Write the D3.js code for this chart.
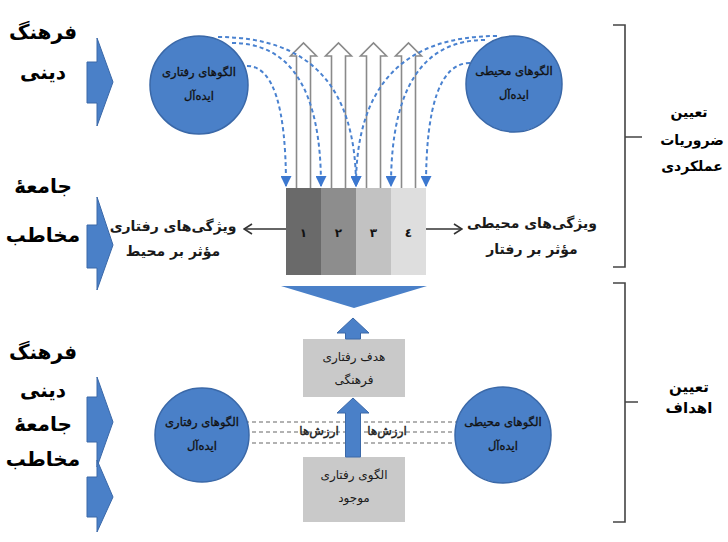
<!DOCTYPE html>
<html lang="fa">
	<head>
		<meta charset="utf-8">
		<title>D3: cultural behaviour model</title>
		<script type="text/javascript" src="https://d3js.org/d3.v7.min.js"></script>
		<style type="text/css">
			body { margin: 0; background: #fff; }
			svg { display: block; font-family: "DejaVu Sans", sans-serif; }
		</style>
	</head>
	<body>

		<div id="diagram"></div>

		<script type="text/javascript">

		// labels
		var blockLabels = ["۱", "۲", "۳", "٤"];
		var leftWordsTop = ["فرهنگ", "دینی", "جامعهٔ", "مخاطب"];
		var leftWordsBottom = ["فرهنگ", "دینی", "جامعهٔ", "مخاطب"];
		var idealBehaviour = ["الگوهای رفتاری", "ایده‌آل"];
		var idealEnvironment = ["الگوهای محیطی", "ایده‌آل"];
		var behaviourTraits = ["ویژگی‌های رفتاری", "مؤثر بر محیط"];
		var environmentTraits = ["ویژگی‌های محیطی", "مؤثر بر رفتار"];
		var goalBox = ["هدف رفتاری", "فرهنگی"];
		var currentBox = ["الگوی رفتاری", "موجود"];
		var valueLabels = ["ارزش‌ها", "ارزش‌ها"];
		var phaseTop = ["تعیین", "ضروریات", "عملکردی"];
		var phaseBottom = ["تعیین", "اهداف"];
		// which block edge each dashed curve lands on (0..4)
		var leftCurveEdges = [0, 1, 2];
		var rightCurveEdges = [2, 3, 4];

		drawDiagram();

		function drawDiagram(){

			var w = 728;
			var h = 542;
			var blue = "#4a80c8";
			var blueEdge = "#3a68a8";

			var svg = d3.select("#diagram")
				.append("svg")
				.attr("width", w)
				.attr("height", h);

			var defs = svg.append("defs");
			defs.append("marker")
				.attr("id", "bluehead")
				.attr("viewBox", "0 0 10 10")
				.attr("refX", 9).attr("refY", 5)
				.attr("markerWidth", 11).attr("markerHeight", 11)
				.attr("markerUnits", "userSpaceOnUse")
				.attr("orient", "auto")
				.append("path")
				.attr("d", "M0,0 L10,5 L0,10 z")
				.attr("fill", "#3c78d0");
			defs.append("marker")
				.attr("id", "openhead")
				.attr("viewBox", "0 0 10 12")
				.attr("refX", 9).attr("refY", 6)
				.attr("markerWidth", 10).attr("markerHeight", 12)
				.attr("markerUnits", "userSpaceOnUse")
				.attr("orient", "auto")
				.append("path")
				.attr("d", "M1,1 L9,6 L1,11")
				.attr("fill", "none")
				.attr("stroke", "#333")
				.attr("stroke-width", 1.6);

			// scales for the four-part block
			var blockX = d3.scaleBand()
				.domain(blockLabels)
				.range([286, 426]);
			var edgeX = d3.scaleLinear()
				.domain([0, blockLabels.length])
				.range([286, 426]);
			var blockColor = d3.scaleOrdinal()
				.domain(blockLabels)
				.range(["#6a6a6a", "#8d8d8d", "#c2c2c2", "#dedede"]);

			var blockTop = 188, blockBottom = 275;

			// hollow upward arrows
			svg.selectAll(".hollow")
				.data(blockLabels)
				.enter()
				.append("path")
				.attr("class", "hollow")
				.attr("d", function(d){
					var cx = blockX(d) + blockX.bandwidth() / 2;
					return "M" + (cx - 7) + "," + blockTop + " L" + (cx - 7) + ",56 L" + (cx - 13) + ",56 L" + cx + ",43 L" +
						(cx + 13) + ",56 L" + (cx + 7) + ",56 L" + (cx + 7) + "," + blockTop;
				})
				.attr("fill", "#fff")
				.attr("stroke", "#8a8a8a")
				.attr("stroke-width", 1.6);

			// blocks
			svg.selectAll(".block")
				.data(blockLabels)
				.enter()
				.append("rect")
				.attr("class", "block")
				.attr("x", function(d){ return blockX(d); })
				.attr("y", blockTop)
				.attr("width", blockX.bandwidth())
				.attr("height", blockBottom - blockTop)
				.attr("fill", function(d){ return blockColor(d); });

			svg.selectAll(".blocknum")
				.data(blockLabels)
				.enter()
				.append("text")
				.attr("class", "blocknum")
				.attr("x", function(d){ return blockX(d) + blockX.bandwidth() / 2; })
				.attr("y", 233)
				.attr("text-anchor", "middle")
				.attr("dominant-baseline", "central")
				.attr("font-size", 12)
				.attr("font-weight", "bold")
				.attr("fill", "#111")
				.text(function(d){ return d; });

			// dashed curves from the top circles
			var curveStartsLeft = [[247, 66], [232, 43], [218, 37]];
			var curveStartsRight = [[497, 36], [485, 40], [470, 63]];
			function curvePath(s, e){
				var tx = edgeX(e);
				return "M" + s[0] + "," + s[1] + " Q" + tx + "," + s[1] + " " + tx + ",186";
			}
			svg.selectAll(".curveL")
				.data(leftCurveEdges)
				.enter()
				.append("path")
				.attr("class", "curveL")
				.attr("d", function(d, i){ return curvePath(curveStartsLeft[i], d); })
				.attr("fill", "none")
				.attr("stroke", "#4a82d0")
				.attr("stroke-width", 2)
				.attr("stroke-dasharray", "4,3")
				.attr("marker-end", "url(#bluehead)");
			svg.selectAll(".curveR")
				.data(rightCurveEdges)
				.enter()
				.append("path")
				.attr("class", "curveR")
				.attr("d", function(d, i){ return curvePath(curveStartsRight[i], d); })
				.attr("fill", "none")
				.attr("stroke", "#4a82d0")
				.attr("stroke-width", 2)
				.attr("stroke-dasharray", "4,3")
				.attr("marker-end", "url(#bluehead)");

			// circles
			var circles = [
				{cx: 199, cy: 85, r: 49, text: idealBehaviour},
				{cx: 514, cy: 84, r: 48, text: idealEnvironment},
				{cx: 202, cy: 435, r: 47, text: idealBehaviour},
				{cx: 503, cy: 435, r: 48, text: idealEnvironment}
			];

			// dashed value lines at the bottom (behind circles)
			svg.selectAll(".valline")
				.data([422, 432, 443])
				.enter()
				.append("line")
				.attr("class", "valline")
				.attr("x1", 245).attr("x2", 458)
				.attr("y1", function(d){ return d; })
				.attr("y2", function(d){ return d; })
				.attr("stroke", "#666")
				.attr("stroke-width", 1.2)
				.attr("stroke-dasharray", "4,3");

			svg.selectAll(".ball")
				.data(circles)
				.enter()
				.append("circle")
				.attr("class", "ball")
				.attr("cx", function(d){ return d.cx; })
				.attr("cy", function(d){ return d.cy; })
				.attr("r", function(d){ return d.r; })
				.attr("fill", blue)
				.attr("stroke", blueEdge)
				.attr("stroke-width", 1.5);

			circles.forEach(function(c){
				c.text.forEach(function(t, i){
					svg.append("text")
						.attr("x", c.cx)
						.attr("y", c.cy - 13 + i * 24)
						.attr("text-anchor", "middle")
						.attr("dominant-baseline", "central")
						.attr("font-size", 11.5)
						.attr("fill", "#111")
						.attr("stroke", "#111")
						.attr("stroke-width", 0.3)
						.text(t);
				});
			});

			// horizontal arrows from the block
			svg.append("line")
				.attr("x1", edgeX(0)).attr("x2", 244)
				.attr("y1", 229).attr("y2", 229)
				.attr("stroke", "#333").attr("stroke-width", 1.6)
				.attr("marker-end", "url(#openhead)");
			svg.append("line")
				.attr("x1", edgeX(4)).attr("x2", 462)
				.attr("y1", 229).attr("y2", 229)
				.attr("stroke", "#333").attr("stroke-width", 1.6)
				.attr("marker-end", "url(#openhead)");

			function twoLines(lines, cx, y0, gap, size, bold){
				lines.forEach(function(t, i){
					svg.append("text")
						.attr("x", cx)
						.attr("y", y0 + i * gap)
						.attr("text-anchor", "middle")
						.attr("dominant-baseline", "central")
						.attr("font-size", size)
						.attr("font-weight", bold ? "bold" : "normal")
						.attr("fill", "#1a1a1a")
						.text(t);
				});
			}
			twoLines(behaviourTraits, 173, 226, 25, 14, true);
			twoLines(environmentTraits, 532, 223, 26, 14, true);

			// blue funnel triangle
			svg.append("path")
				.attr("d", "M" + (edgeX(0) - 5) + ",286 L" + (edgeX(4) + 1) + ",286 L354,308 Z")
				.attr("fill", blue);

			// boxes
			svg.append("rect")
				.attr("x", 303).attr("y", 339)
				.attr("width", 102).attr("height", 58)
				.attr("fill", "#c9c9c9");
			svg.append("rect")
				.attr("x", 303).attr("y", 457)
				.attr("width", 102).attr("height", 65)
				.attr("fill", "#c9c9c9");
			twoLines(goalBox, 354, 357, 23, 12, false);
			twoLines(currentBox, 354, 475, 23, 12, false);

			// blue up arrows
			function upArrow(cx, tip, base, bottom){
				svg.append("path")
					.attr("d", "M" + (cx - 7.5) + "," + bottom + " L" + (cx - 7.5) + "," + base + " L" + (cx - 16) + "," + base +
						" L" + cx + "," + tip + " L" + (cx + 16) + "," + base + " L" + (cx + 7.5) + "," + base +
						" L" + (cx + 7.5) + "," + bottom + " Z")
					.attr("fill", blue)
					.attr("stroke", blueEdge)
					.attr("stroke-width", 1);
			}
			upArrow(353, 318, 333, 339);
			upArrow(353, 398, 413, 457);

			// value labels over dashed lines
			svg.selectAll(".vallabel")
				.data(valueLabels)
				.enter()
				.append("text")
				.attr("class", "vallabel")
				.attr("x", function(d, i){ return [319, 387][i]; })
				.attr("y", 431)
				.attr("text-anchor", "middle")
				.attr("dominant-baseline", "central")
				.attr("font-size", 12)
				.attr("fill", "#222")
				.attr("stroke", "#222")
				.attr("stroke-width", 0.4)
				.text(function(d){ return d; });

			// left blue arrows
			function sideArrow(top, mid, bottom, s0, s1){
				svg.append("path")
					.attr("d", "M87," + s0 + " L97," + s0 + " L97," + top + " L113," + mid + " L97," + bottom +
						" L97," + s1 + " L87," + s1 + " Z")
					.attr("fill", blue)
					.attr("stroke", blueEdge)
					.attr("stroke-width", 1);
			}
			sideArrow(38, 82, 126, 62, 103);
			sideArrow(197, 245, 290, 225, 268);
			sideArrow(377, 422, 467, 397, 442);
			sideArrow(460, 497, 532, 477, 517);

			// left words
			var topWordY = [32, 72, 186, 235];
			var bottomWordY = [352, 390, 424, 459];
			svg.selectAll(".wordT")
				.data(leftWordsTop)
				.enter()
				.append("text")
				.attr("class", "wordT")
				.attr("x", 43)
				.attr("y", function(d, i){ return topWordY[i]; })
				.attr("text-anchor", "middle")
				.attr("dominant-baseline", "central")
				.attr("font-size", 20)
				.attr("font-weight", "bold")
				.text(function(d){ return d; });
			svg.selectAll(".wordB")
				.data(leftWordsBottom)
				.enter()
				.append("text")
				.attr("class", "wordB")
				.attr("x", 43)
				.attr("y", function(d, i){ return bottomWordY[i]; })
				.attr("text-anchor", "middle")
				.attr("dominant-baseline", "central")
				.attr("font-size", 20)
				.attr("font-weight", "bold")
				.text(function(d){ return d; });

			// right brackets
			svg.append("path")
				.attr("d", "M613,25 L625,25 L625,267 L613,267 M625,137 L642,137")
				.attr("fill", "none").attr("stroke", "#444").attr("stroke-width", 1.6);
			svg.append("path")
				.attr("d", "M613,283 L625,283 L625,522 L613,522 M625,402 L638,402")
				.attr("fill", "none").attr("stroke", "#444").attr("stroke-width", 1.6);

			phaseTop.forEach(function(t, i){
				svg.append("text")
					.attr("x", i == 0 ? 689 : 692)
					.attr("y", [112, 140, 166][i])
					.attr("text-anchor", "middle")
					.attr("dominant-baseline", "central")
					.attr("font-size", 14)
					.attr("font-weight", "bold")
					.text(t);
			});
			phaseBottom.forEach(function(t, i){
				svg.append("text")
					.attr("x", 689)
					.attr("y", [387, 408][i])
					.attr("text-anchor", "middle")
					.attr("dominant-baseline", "central")
					.attr("font-size", 15)
					.attr("font-weight", "bold")
					.text(t);
			});
		}

		</script>
	</body>
</html>
